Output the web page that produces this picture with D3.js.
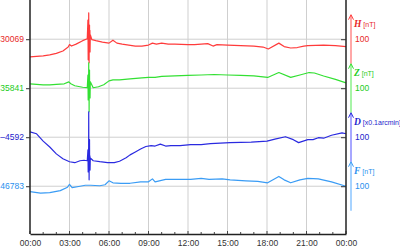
<!DOCTYPE html>
<html>
<head>
<meta charset="utf-8" />
<style>
  body { margin: 0; background: #fff; }
  svg { display: block; font-family: "Liberation Sans", Arial, sans-serif; }
</style>
</head>
<body>
<svg id="chart" width="400" height="250"></svg>
<script src="https://cdn.jsdelivr.net/npm/d3@7"></script>
<script>
// each series: [hour, nT offset from its baseline]
var seriesH = [[0,-36],[0.5,-35],[1,-34],[1.5,-32],[2,-29],[2.5,-24],[2.9,-16],[3,-11],[3.15,-14],[3.5,-10],[4,-3],[4.35,1],
  [4.4,39],[4.42,-42],[4.44,20],[4.45,-10],[4.46,54],[4.47,0],[4.48,30],[4.49,-48],[4.5,15],[4.51,-5],[4.52,29],
  [4.53,-15],[4.55,18],[4.56,-26],[4.58,9],
  [4.7,-1],[5,-3],[5.5,-6],[6,-8],[6.3,-2],[6.6,-8],[7,-10],[7.5,-12],[8,-14],[8.5,-14],[9,-12],[9.3,-8],[9.6,-10],[10,-8],
  [10.5,-10],[11,-10],[12,-11],[12.5,-11],[13,-10],[13.5,-9],[13.9,-14],[14.2,-11],[15,-12],[16,-13],[17,-14],[17.7,-16],
  [18.1,-20],[18.9,-8],[19.3,-15],[19.8,-18],[20.3,-17],[20.8,-14],[21.1,-13],[22.3,-12],[23.2,-13],[24,-15]];
var seriesZ = [[0,9],[0.5,8],[1,7],[1.5,7],[2,8],[2.6,9],[2.95,13],[3.1,9],[3.4,5],[4,2],[4.35,1],
  [4.4,27],[4.42,-24],[4.44,15],[4.45,-12],[4.46,52],[4.47,-5],[4.48,22],[4.49,-48],[4.5,10],[4.51,-15],[4.52,37],
  [4.53,-8],[4.55,14],[4.56,-20],[4.58,13],
  [4.8,1],[5.2,3],[5.6,7],[6,15],[6.3,17],[6.8,17],[7.6,19],[8.5,21],[9,22],[9.5,22],[10,24],[11,25],[12,26],[13,27],
  [14,28],[15,27],[16,26],[17,25],[18.05,22],[18.9,32],[19.8,22],[20.5,27],[21.2,32],[21.6,31],[22.3,25],[23.2,18],[24,11]];
var seriesD = [[0,11],[0.5,7],[1,-8],[1.5,-20],[2,-34],[2.5,-44],[3,-50],[3.4,-52],[3.8,-48],[4.1,-47],[4.35,-48],
  [4.4,-26],[4.42,-71],[4.44,-30],[4.45,-62],[4.46,52],[4.47,-40],[4.48,-20],[4.49,-87],[4.5,-35],[4.51,-65],[4.52,-5],
  [4.53,-58],[4.55,-38],[4.56,-67],[4.58,-42],
  [4.8,-48],[5.3,-50],[5.9,-52],[6.4,-52],[6.8,-49],[7.3,-42],[7.6,-36],[8,-30],[8.4,-24],[8.8,-19],[9.2,-17],[9.5,-18],
  [9.9,-14],[10.3,-18],[10.7,-17],[11.4,-17],[12.2,-15],[13,-15],[13.7,-13],[15.2,-11],[16.8,-10],[18,-8],[18.6,-4],
  [19.4,1],[20,-5],[20.4,-11],[21.1,-5],[21.5,-5],[21.9,-1],[22.3,-2],[22.9,4],[23.7,9],[24,7]];
var seriesF = [[0,-11],[0.8,-14],[1.5,-13],[2.3,-9],[2.85,-2],[3,4],[3.2,-3],[3.8,0],[4.2,2],[4.6,2],[5.3,1],[5.7,3],
  [6,11],[6.3,7],[6.9,6],[7.6,6],[8.4,9],[9,9],[9.3,15],[9.5,9],[10.3,14],[11.4,14],[12.2,14],[13,16],[13.6,14],
  [14.6,15],[15.2,13],[16.4,11],[17.3,10],[18.05,7],[18.9,20],[19.3,13],[19.8,7],[20.5,13],[21.1,16],[21.9,15],
  [22.9,9],[24,0]];

var baseLabels = ["30069", "35841", "\u20134592", "46783"];
var unitNames = ["H", "Z", "D", "F"];
var unitTexts = ["[nT]", "[nT]", "[x0.1arcmin]", "[nT]"];
var scaleLabel = "100";
var hourTicks = [0, 3, 6, 9, 12, 15, 18, 21, 24];

var lineColors = ["#ff3b3b", "#33e033", "#2a2ae0", "#3a9cf5"];
var textColors = ["#e82828", "#22cc22", "#2323cc", "#2a90ee"];
var arrowColors = ["#ff8a8a", "#8af08a", "#8a8aff", "#8ac4ff"];

var svg = d3.select("#chart");
var x = d3.scaleLinear().domain([0, 24]).range([30, 346]);
var y = d3.scaleLinear().domain([80, -397.5]).range([0, 234]);
var allSeries = [seriesH, seriesZ, seriesD, seriesF];

// grid
svg.append("g").selectAll("line").data(hourTicks.slice(1, -1)).join("line")
  .attr("x1", d => x(d)).attr("x2", d => x(d)).attr("y1", 0).attr("y2", y.range()[1])
  .attr("stroke", "#cfcfcf").attr("stroke-width", 1);
svg.append("g").selectAll("line").data([0, 1, 2, 3]).join("line")
  .attr("x1", x(0)).attr("x2", x(24)).attr("y1", i => y(-100 * i)).attr("y2", i => y(-100 * i))
  .attr("stroke", "#cfcfcf").attr("stroke-width", 1);

// data lines
var line = d3.line().x(d => x(d[0]));
allSeries.forEach(function(s, i) {
  svg.append("path").datum(s)
    .attr("d", line.y(d => y(d[1] - 100 * i)))
    .attr("fill", "none").attr("stroke", lineColors[i]).attr("stroke-width", 1.2)
    .attr("stroke-linejoin", "round");
});

// bottom axis
var xAxis = d3.axisBottom(x).tickValues(hourTicks).tickSize(0).tickPadding(6)
  .tickFormat(d => String(d % 24).padStart(2, "0") + ":00");
var gx = svg.append("g").attr("transform", "translate(0," + y.range()[1] + ")").call(xAxis);
gx.select(".domain").attr("stroke", "#222").attr("stroke-width", 1.5);
gx.selectAll("text").attr("font-size", 8.5).attr("fill", "#333").attr("font-family", "Liberation Sans, Arial, sans-serif");
svg.append("g").selectAll("line").data(d3.range(0, 25)).join("line")
  .attr("x1", d => x(d)).attr("x2", d => x(d))
  .attr("y1", y.range()[1]).attr("y2", d => y.range()[1] - (d % 3 === 0 ? 3 : 2))
  .attr("stroke", "#444");

// left axis
var yAxis = d3.axisLeft(y).tickValues([0, -100, -200, -300]).tickSize(4).tickPadding(2)
  .tickFormat((d, i) => baseLabels[i]);
var gy = svg.append("g").attr("transform", "translate(" + x(0) + ",0)").call(yAxis);
gy.select(".domain").attr("d", "M0,0V" + y.range()[1]).attr("stroke", "#222").attr("stroke-width", 1.5);
gy.selectAll(".tick line").attr("stroke", "#333");
gy.selectAll("text").attr("font-size", 8.5).attr("font-family", "Liberation Sans, Arial, sans-serif")
  .attr("fill", (d, i) => textColors[i]);

// right axis
var yAxisR = d3.axisLeft(y).tickValues([0, -100, -200, -300]).tickSize(5).tickFormat("");
var gr = svg.append("g").attr("transform", "translate(" + x(24) + ",0)").call(yAxisR);
gr.select(".domain").attr("d", "M0,0V" + y.range()[1]).attr("stroke", "#222").attr("stroke-width", 1.5);
gr.selectAll(".tick line").attr("stroke", "#333");

// scale arrows and labels
var ax = x(24) + 5;
[0, 1, 2, 3].forEach(function(i) {
  var top = y(-100 * i + 50), bot = y(-100 * i - 50);
  var g = svg.append("g");
  g.append("line").attr("x1", ax).attr("x2", ax).attr("y1", top + 1).attr("y2", bot)
    .attr("stroke", arrowColors[i]).attr("stroke-width", 1.5);
  g.append("path").attr("d", "M" + (ax - 2.5) + "," + (top + 5) + "L" + ax + "," + top + "L" + (ax + 2.5) + "," + (top + 5))
    .attr("fill", "none").attr("stroke", lineColors[i]).attr("stroke-width", 1);
  var t = g.append("text").attr("x", ax + 3).attr("y", top + 12).attr("fill", textColors[i]);
  t.append("tspan").text(unitNames[i]).attr("font-family", "Liberation Serif, serif")
    .attr("font-style", "italic").attr("font-weight", "bold").attr("font-size", 9.5);
  t.append("tspan").text(" " + unitTexts[i]).attr("font-size", 7);
  g.append("text").attr("x", ax + 4).attr("y", y(-100 * i)).attr("dy", "0.35em")
    .attr("font-size", 8.5).attr("fill", textColors[i]).text(scaleLabel);
});
</script>
</body>
</html>
